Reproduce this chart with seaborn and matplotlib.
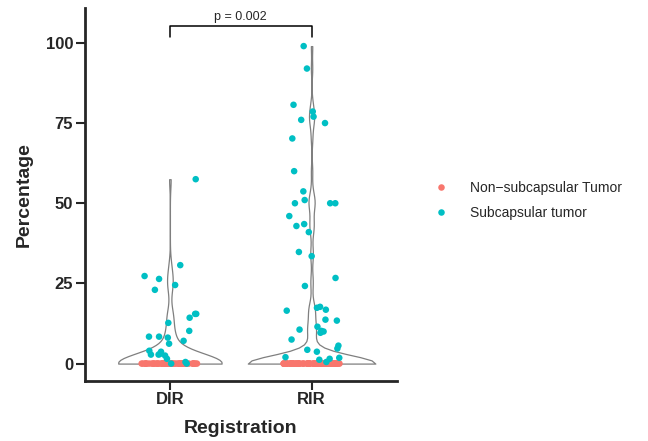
import numpy as np
import pandas as pd
import matplotlib
matplotlib.use("Agg")
import matplotlib.pyplot as plt
import seaborn as sns

# values
registrations = ["DIR", "RIR"]
tumor_types = ["Non-subcapsular Tumor", "Subcapsular tumor"]
legend_labels = ["Non\u2212subcapsular Tumor", "Subcapsular tumor"]

dir_subcapsular = [57.5, 30.7, 27.3, 26.4, 24.5, 23.0, 15.5, 15.5, 14.3, 12.7,
                   10.2, 8.4, 8.4, 8.1, 7.1, 6.2, 4.0, 3.7, 3.0, 2.8, 2.8, 2.5,
                   1.5, 0.5, 0.0, 0.0]
rir_subcapsular = [99.0, 92.0, 80.7, 78.6, 77.0, 76.0, 75.0, 70.2, 60.0, 53.7,
                   51.0, 50.0, 50.0, 50.0, 46.0, 43.5, 42.9, 41.0, 34.8, 33.5,
                   26.7, 24.2, 17.7, 17.4, 16.8, 16.5, 13.7, 13.4, 11.5, 10.6,
                   10.2, 10.0, 9.6, 7.5, 5.6, 4.7, 4.3, 3.7, 2.0, 1.8, 1.5, 1.2,
                   0.5]
dir_non_subcapsular = [0.0] * 60
rir_non_subcapsular = [0.0] * 90

p_text = "p = 0.002"

rows = []
for reg, vals, tumor in [("DIR", dir_non_subcapsular, tumor_types[0]),
                         ("DIR", dir_subcapsular, tumor_types[1]),
                         ("RIR", rir_non_subcapsular, tumor_types[0]),
                         ("RIR", rir_subcapsular, tumor_types[1])]:
    for v in vals:
        rows.append({"Registration": reg, "Percentage": v, "Tumor": tumor})
df = pd.DataFrame(rows)

sns.set_style("ticks")
plt.rcParams["font.family"] = ["Liberation Sans", "DejaVu Sans"]

fig, ax = plt.subplots(figsize=(6.48, 4.41), dpi=100)
fig.subplots_adjust(left=0.131, right=0.612, bottom=0.137, top=0.982)

# one violin per group so each gets its own bandwidth / width
violin_bw = [3.0, 2.5]
violin_width = [0.73, 0.9]
for i, reg in enumerate(registrations):
    sub = df[df["Registration"] == reg]
    sd = sub["Percentage"].std()
    sns.violinplot(data=sub, x="Registration", y="Percentage", order=registrations,
                   color="white", linecolor="#7f7f7f", linewidth=0.9, inner=None,
                   cut=0, bw_method=violin_bw[i] / sd, width=violin_width[i],
                   density_norm="area", saturation=1, ax=ax)

np.random.seed(7)
sns.stripplot(data=df, x="Registration", y="Percentage", hue="Tumor",
              order=registrations, hue_order=tumor_types,
              palette=["#F8766D", "#00BFC4"], jitter=0.2, size=4.7,
              linewidth=0, ax=ax, zorder=3)

handles, labels = ax.get_legend_handles_labels()
if ax.legend_ is not None:
    ax.legend_.remove()
fig.legend(handles[-2:], legend_labels, loc="center left",
           bbox_to_anchor=(0.659, 0.546), frameon=False, fontsize=10,
           handlelength=1.0, handletextpad=1.6, labelspacing=0.8, borderpad=0)

# significance bracket
ax.plot([0, 0, 1, 1], [101.8, 105.2, 105.2, 101.8], color="black", lw=1.1,
        clip_on=False, zorder=4)
ax.text(0.5, 106.3, p_text, ha="center", va="bottom", fontsize=9)

ax.set_xlim(-0.6, 1.6)
ax.set_ylim(-5.3, 110.9)
ax.set_yticks([0, 25, 50, 75, 100])
sns.despine(ax=ax)
for s in ["left", "bottom"]:
    ax.spines[s].set_linewidth(2)
ax.tick_params(axis="both", length=6.5, width=1.5, pad=2, labelsize=12)
for t in ax.get_xticklabels() + ax.get_yticklabels():
    t.set_fontweight("bold")
ax.set_xlabel("Registration", fontsize=14, fontweight="bold", labelpad=9)
ax.set_ylabel("Percentage", fontsize=14, fontweight="bold", labelpad=9)

plt.savefig("out.png", dpi=100)
